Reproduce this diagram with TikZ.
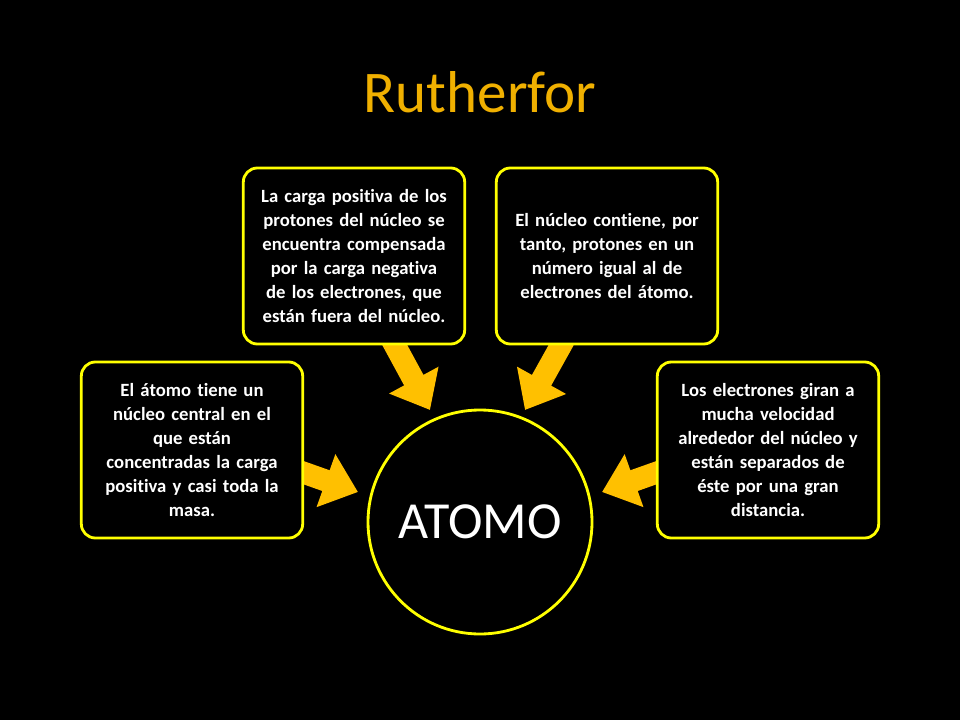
\documentclass[tikz,border=0pt]{standalone}
\usepackage{fontspec}
\setmainfont[Ligatures={NoCommon}]{Carlito}
\usetikzlibrary{arrows.meta}
\definecolor{gold}{HTML}{FFC000}
\definecolor{titleorange}{HTML}{F0B000}
\definecolor{rimyellow}{HTML}{FFFF00}
\tikzset{
  infobox/.style={draw=rimyellow,line width=2pt,rounded corners=0.35cm,fill=black,
    minimum width=5.5cm,minimum height=4.4cm,text width=5.3cm,align=center,
    text=white,font=\bfseries\fontsize{13.3}{17}\selectfont},
  blockarrow/.style={draw=gold,line width=0.55cm,
    -{Triangle[width=1.35cm,length=0.85cm]}}
}
\begin{document}
\begin{tikzpicture}
	\fill[black] (0,0) rectangle (24,18);
	\useasboundingbox (0,0) rectangle (24,18);
	
	\node[text=titleorange,font=\fontsize{42}{46}\selectfont] (title) at (12,15.7) {Rutherfor};
	
	% arrow ends
	\coordinate (la) at (7.4,6.25);  \coordinate (lt) at (8.95,5.7);
	\coordinate (ta) at (9.8,9.5);   \coordinate (tt) at (10.75,7.75);
	\coordinate (ua) at (14.1,9.5);  \coordinate (ut) at (13.125,7.75);
	\coordinate (ra) at (16.6,6.25); \coordinate (rt) at (15.05,5.7);
	\draw[blockarrow] (la) -- (lt);
	\draw[blockarrow] (ta) -- (tt);
	\draw[blockarrow] (ua) -- (ut);
	\draw[blockarrow] (ra) -- (rt);
	
	\node[circle,draw=rimyellow,line width=2pt,fill=black,minimum size=5.6cm,
	      text=white,font=\fontsize{37}{40}\selectfont] (atomo) at (12,4.95) {ATOMO};
	
	\node[infobox] (left) at (4.8,6.75) {El átomo tiene un\\ núcleo central en el\\ que están\\ concentradas la carga\\ positiva y casi toda la\\ masa.};
	\node[infobox] (topleft) at (8.85,11.6) {La carga positiva de los\\ protones del núcleo se\\ encuentra compensada\\ por la carga negativa\\ de los electrones, que\\ están fuera del núcleo.};
	\node[infobox] (topright) at (15.175,11.6) {El núcleo contiene, por\\ tanto, protones en un\\ número igual al de\\ electrones del átomo.};
	\node[infobox] (right) at (19.2,6.75) {Los electrones giran a\\ mucha velocidad\\ alrededor del núcleo y\\ están separados de\\ éste por una gran\\ distancia.};
\end{tikzpicture}
\end{document}
